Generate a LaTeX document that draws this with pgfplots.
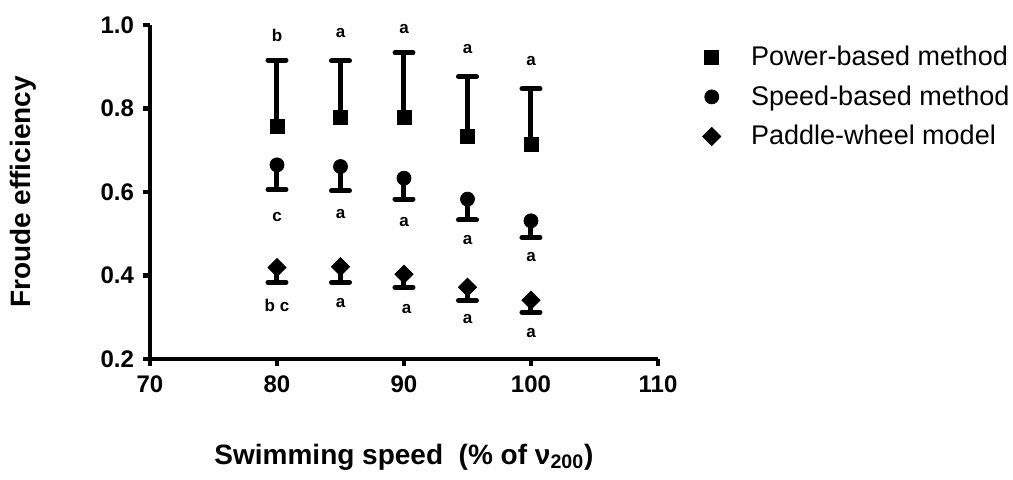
\documentclass[border=0pt]{standalone}
\usepackage{fontspec}
\setmainfont{Liberation Sans}
\usepackage{pgfplots}
\pgfplotsset{compat=1.18}
\begin{document}
\begin{tikzpicture}
\begin{axis}[
  at={(0,0)}, anchor=south west,
  scale only axis, width=254pt, height=167pt,
  xmin=70, xmax=110, ymin=0.2, ymax=1.0,
  xtick={70,80,90,100,110}, ytick={0.2,0.4,0.6,0.8,1.0},
  axis lines*=left,
  axis line style={line width=2.1pt,-},
  x axis line style={-}, y axis line style={-},
  tick style={line width=2.1pt, black},
  tick align=outside, major tick length=3.5pt,
  /pgf/number format/assume math mode=true,
  ticklabel style={font=\bfseries\fontsize{12}{14}\selectfont},
  yticklabel style={/pgf/number format/fixed, /pgf/number format/fixed zerofill, /pgf/number format/precision=1, xshift=-1pt},
  xticklabel style={yshift=-1.5pt},
  xlabel={Swimming speed\ \ (\% of ν\textsubscript{200})},
  ylabel={Froude efficiency},
  label style={font=\bfseries\fontsize{14}{16}\selectfont},
  xlabel style={at={(axis description cs:0.5,0)}, anchor=center, yshift=-49pt},
  ylabel style={at={(axis description cs:-0.25,0.5)}, anchor=center},
  clip=false,
  legend style={at={(axis description cs:1,1)}, anchor=north west, xshift=19pt, yshift=-6.3pt,
    draw=none, fill=none, font=\fontsize{13.5}{15}\selectfont, row sep=4.5pt,
    cells={anchor=west}},
  legend image code/.code={\draw[#1] plot coordinates {(0pt,0pt)}; \path (-4.5pt,0pt) (17.5pt,0pt);},
]
\addplot[only marks, black, mark=square*, mark size=3.5pt, mark options={fill=black},
  error bars/.cd, y dir=plus, y explicit,
  error bar style={line width=2.5pt, black},
  error mark options={rotate=90, line width=2.5pt, mark size=4.5pt, line cap=round, black}]
  coordinates {(80,0.756) +- (0,0.160) (85,0.779) +- (0,0.135) (90,0.778) +- (0,0.156)
               (95,0.734) +- (0,0.142) (100,0.714) +- (0,0.133)};
\addlegendentry{Power-based method}
\addplot[only marks, black, mark=*, mark size=3.5pt, mark options={fill=black},
  error bars/.cd, y dir=minus, y explicit,
  error bar style={line width=2.5pt, black},
  error mark options={rotate=90, line width=2.5pt, mark size=4.5pt, line cap=round, black}]
  coordinates {(80,0.665) +- (0,0.059) (85,0.661) +- (0,0.058) (90,0.633) +- (0,0.050)
               (95,0.583) +- (0,0.050) (100,0.531) +- (0,0.040)};
\addlegendentry{Speed-based method}
\addplot[only marks, black, mark=square*, mark size=3.2pt, mark options={fill=black, rotate=45},
  error bars/.cd, y dir=minus, y explicit,
  error bar style={line width=2.5pt, black},
  error mark options={rotate=90, line width=2.5pt, mark size=4.5pt, line cap=round, black}]
  coordinates {(80,0.419) +- (0,0.035) (85,0.421) +- (0,0.037) (90,0.403) +- (0,0.031)
               (95,0.372) +- (0,0.032) (100,0.341) +- (0,0.029)};
\addlegendentry{Paddle-wheel model}
\begin{scope}[every node/.style={font=\bfseries\fontsize{8.5}{9}\selectfont}]
\node at (axis cs:80,0.976) {b};
\node at (axis cs:85,0.980) {a};
\node at (axis cs:90,0.990) {a};
\node at (axis cs:95,0.942) {a};
\node at (axis cs:100,0.914) {a};
\node at (axis cs:80,0.541) {c};
\node at (axis cs:85,0.547) {a};
\node at (axis cs:90,0.529) {a};
\node at (axis cs:95,0.485) {a};
\node at (axis cs:100,0.445) {a};
\node at (axis cs:80,0.329) {b c};
\node at (axis cs:85,0.333) {a};
\node at (axis cs:90.2,0.320) {a};
\node at (axis cs:95,0.297) {a};
\node at (axis cs:100,0.262) {a};
\end{scope}
\end{axis}
\pgfresetboundingbox
\path[use as bounding box] (-75pt,-60pt) rectangle (431.5pt,179.5pt);
\end{tikzpicture}
\end{document}
